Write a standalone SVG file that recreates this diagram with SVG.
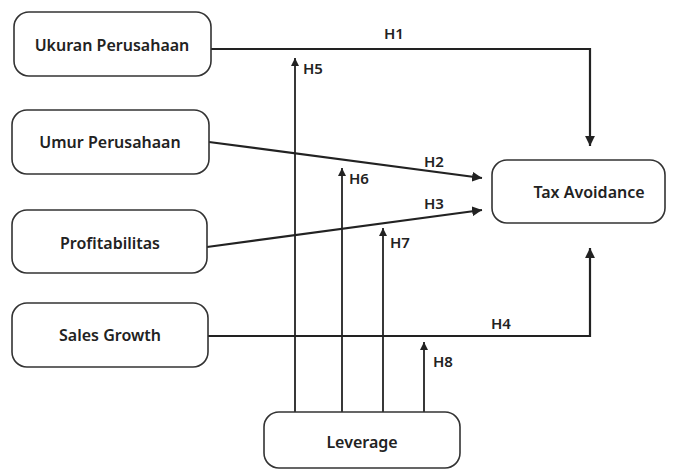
<svg xmlns="http://www.w3.org/2000/svg" width="678" height="471" viewBox="0 0 678 471">
<style>
.box{fill:#fff;stroke:#333;stroke-width:1.6}
.t{font-family:"Noto Sans",sans-serif;font-weight:600;font-size:16px;fill:#222;text-anchor:middle;dominant-baseline:central}
.l{font-family:"Noto Sans",sans-serif;font-weight:600;font-size:15px;fill:#222;dominant-baseline:central}
.c{fill:none;stroke:#222;stroke-width:2.2}
.v{fill:none;stroke:#222;stroke-width:1.8}
</style>
<defs>
<marker id="a" viewBox="0 0 10 10" refX="10" refY="5" markerWidth="4.5" markerHeight="4.5" markerUnits="strokeWidth" orient="auto"><path d="M0,0L10,5L0,10z" fill="#222"/></marker>
</defs>
<rect width="678" height="471" fill="#fff"/>
<g id="connectors">
<path class="c" d="M211,49H590V146" marker-end="url(#a)"/>
<text class="l" x="384" y="33">H1</text>
<path class="c" d="M209,142L482,178" marker-end="url(#a)"/>
<text class="l" x="424" y="161">H2</text>
<path class="c" d="M207,247L482,210" marker-end="url(#a)"/>
<text class="l" x="424" y="203">H3</text>
<path class="c" d="M208,336H590V248" marker-end="url(#a)"/>
<text class="l" x="491" y="323">H4</text>
<path class="v" d="M295,412V58" marker-end="url(#a)"/>
<text class="l" x="303" y="68">H5</text>
<path class="v" d="M342,412V168" marker-end="url(#a)"/>
<text class="l" x="349" y="178">H6</text>
<path class="v" d="M383,412V228" marker-end="url(#a)"/>
<text class="l" x="390" y="242">H7</text>
<path class="v" d="M424,412V342" marker-end="url(#a)"/>
<text class="l" x="433" y="361">H8</text>
</g>
<g id="ukuran"><rect class="box" x="14" y="12" width="197" height="64" rx="15"/><text class="t" x="112" y="45">Ukuran Perusahaan</text></g>
<g id="umur"><rect class="box" x="12" y="110" width="197" height="64" rx="15"/><text class="t" x="110" y="142">Umur Perusahaan</text></g>
<g id="profit"><rect class="box" x="12" y="210" width="195" height="63" rx="15"/><text class="t" x="110" y="243">Profitabilitas</text></g>
<g id="sales"><rect class="box" x="12" y="303" width="196" height="64" rx="15"/><text class="t" x="110" y="335">Sales Growth</text></g>
<g id="tax"><rect class="box" x="492" y="160" width="173" height="63" rx="15"/><text class="t" x="589" y="192">Tax Avoidance</text></g>
<g id="leverage"><rect class="box" x="264" y="412" width="196" height="56" rx="15"/><text class="t" x="362" y="442">Leverage</text></g>
</svg>
